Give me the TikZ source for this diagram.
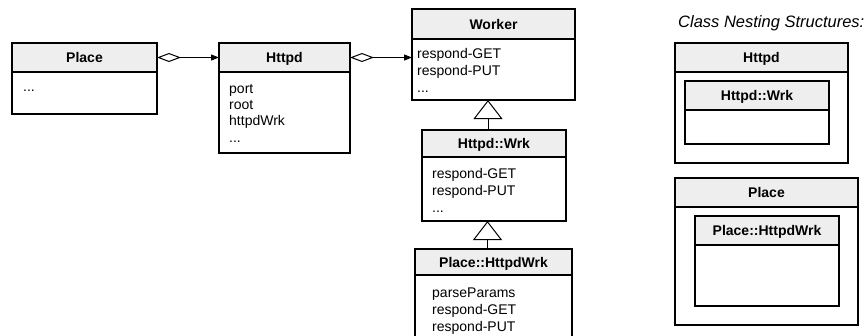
\documentclass[tikz,border=0pt]{standalone}
\usepackage{fontspec}
\setmainfont{Liberation Sans}
\usetikzlibrary{arrows.meta}
\definecolor{hdrgray}{HTML}{EEEEEE}
\begin{document}
\begin{tikzpicture}[x=1pt,y=-1pt,
  hdr/.style={draw, fill=hdrgray, line width=1.2pt, inner sep=0pt, outer sep=0pt, anchor=north west,
    font=\bfseries\fontsize{14}{17}\selectfont, text height=10pt, text depth=0pt},
  bodybox/.style={draw, fill=white, line width=1.2pt, inner sep=0pt, outer sep=0pt, anchor=north west},
  item/.style={anchor=base west, inner sep=0pt, font=\fontsize{14}{17}\selectfont},
  assoc/.style={line width=1pt, {Diamond[open,length=24pt,width=9pt]}-{Triangle[length=8pt,width=6pt]}},
  gen/.style={line width=1pt, -{Triangle[open,length=19pt,width=29pt]}},
]
\clip (0,0) rectangle (868,335);
\fill[white] (0,0) rectangle (868,335);

% Place
\node[bodybox, minimum width=145pt, minimum height=42pt] (placeB) at (12,72) {};
\node[hdr, minimum width=145pt, minimum height=29pt] (placeH) at (12,43) {Place};
\node[item] (placeI1) at (23,91) {...};

% Httpd
\node[bodybox, minimum width=131pt, minimum height=81pt] (httpdB) at (219,72) {};
\node[hdr, minimum width=131pt, minimum height=29pt] (httpdH) at (219,43) {Httpd};
\node[item] (httpdI1) at (229,93) {port};
\node[item] (httpdI2) at (229,109) {root};
\node[item] (httpdI3) at (229,125) {httpdWrk};
\node[item] (httpdI4) at (229,142) {...};

% Worker
\node[bodybox, minimum width=163pt, minimum height=61pt] (workerB) at (412,39) {};
\node[hdr, minimum width=163pt, minimum height=30pt] (workerH) at (412,9) {Worker};
\node[item] (workerI1) at (417,58) {respond-GET};
\node[item] (workerI2) at (417,75) {respond-PUT};
\node[item] (workerI3) at (417,92) {...};

% Httpd::Wrk
\node[bodybox, minimum width=144pt, minimum height=64pt] (wrkB) at (422,157) {};
\node[hdr, minimum width=144pt, minimum height=27pt] (wrkH) at (422,130) {Httpd::Wrk};
\node[item] (wrkI1) at (432,178) {respond-GET};
\node[item] (wrkI2) at (432,195) {respond-PUT};
\node[item] (wrkI3) at (432,212) {...};

% Place::HttpdWrk
\node[bodybox, minimum width=157pt, minimum height=80pt] (phwB) at (415,275) {};
\node[hdr, minimum width=157pt, minimum height=26pt] (phwH) at (415,249) {Place::HttpdWrk};
\node[item] (phwI1) at (432,297) {parseParams};
\node[item] (phwI2) at (432,314) {respond-GET};
\node[item] (phwI3) at (432,331) {respond-PUT};

% connectors
\draw[assoc] (placeH.east) -- (httpdH.west);
\draw[assoc] (httpdH.east) -- (httpdH.east -| workerB.west);
\draw[gen] ([xshift=-6pt]wrkH.north) -- ([xshift=-6pt]wrkH.north |- workerB.south);
\draw[gen] ([xshift=-6pt]phwH.north) -- ([xshift=-6pt]phwH.north |- wrkB.south);

% Class nesting structures
\node[anchor=base west, inner sep=0pt, font=\itshape\fontsize{16.5}{20}\selectfont] (title) at (678,27) {Class Nesting Structures:};

\node[bodybox, minimum width=173pt, minimum height=91pt] (nHttpdB) at (675,72) {};
\node[hdr, minimum width=173pt, minimum height=29pt] (nHttpdH) at (675,43) {Httpd};
\node[bodybox, minimum width=144pt, minimum height=34pt] (nWrkB) at (685,110) {};
\node[hdr, minimum width=144pt, minimum height=29pt] (nWrkH) at (685,81) {Httpd::Wrk};

\node[bodybox, minimum width=183pt, minimum height=118pt] (nPlaceB) at (675,207) {};
\node[hdr, minimum width=183pt, minimum height=29pt] (nPlaceH) at (675,178) {Place};
\node[bodybox, minimum width=144pt, minimum height=61pt] (nPhwB) at (695,245) {};
\node[hdr, minimum width=144pt, minimum height=29pt] (nPhwH) at (695,216) {Place::HttpdWrk};
\end{tikzpicture}
\end{document}
